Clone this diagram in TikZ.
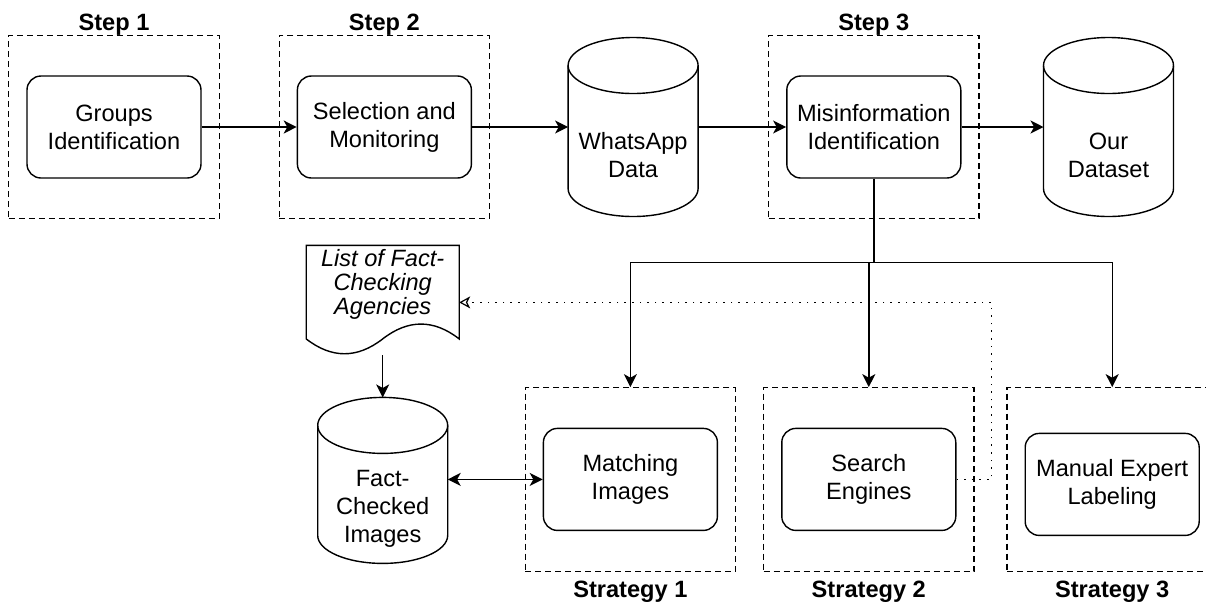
\documentclass[tikz,border=0pt]{standalone}
\usepackage{fontspec}
\setmainfont{Liberation Sans}
\usetikzlibrary{positioning, arrows.meta, calc, fit}
\tikzstyle{stepbox} =[draw, rounded corners=7pt, align=center, minimum width=87pt, minimum height=51pt, line width=0.7pt]
\tikzstyle{phasebox} =[draw, dash pattern=on 3pt off 2pt, line width=0.6pt, inner xsep=8.75pt, inner ysep=20pt]
\tikzstyle{phasetitle} =[font=\fontsize{11.8}{14}\selectfont\bfseries, inner sep=0pt]
\tikzstyle{database} =[align=center, minimum width=65pt, inner sep=0pt, outer sep=0pt]
\tikzstyle{link} =[-{Stealth[length=6.5pt, width=6.5pt, inset=1.8pt]}, line width=0.7pt]

\begin{document}
\begin{tikzpicture}[font=\fontsize{11.8}{14}\selectfont]
\useasboundingbox (-57pt,63.5pt) rectangle (546pt,-237.5pt);

\node (groups) [stepbox] {Groups\\Identification};
\node (selection) [stepbox, right=47.5pt of groups] {Selection and\\Monitoring};
\node (whatsapp) [database, minimum height=61.5pt, right=48pt of selection, yshift=-14pt] {WhatsApp\\Data};
\node (misinfo) [stepbox, right=44pt of whatsapp.east |- selection.east] {Misinformation\\Identification};
\node (dataset) [database, minimum height=61.5pt, right=41pt of misinfo, yshift=-14pt] {Our\\Dataset};

\node (step1box) [phasebox, fit=(groups)] {};
\node (step1title) [phasetitle, above=-0.3pt of step1box] {Step 1};
\node (step2box) [phasebox, fit=(selection)] {};
\node (step2title) [phasetitle, above=-0.3pt of step2box] {Step 2};
\node (step3box) [phasebox, fit=(misinfo)] {};
\node (step3title) [phasetitle, above=-0.3pt of step3box] {Step 3};

\node (search) [stepbox, below=124.5pt of misinfo, xshift=-2.5pt] {Search\\Engines};
\node (matching) [stepbox, left=31.5pt of search] {Matching\\Images};
\node (manual) [stepbox, right=34pt of search, yshift=-2.5pt] {Manual Expert\\Labeling};

\node (strat1box) [phasebox, fit=(matching)] {};
\node (strat1title) [phasetitle, below=4.5pt of strat1box] {Strategy 1};
\node (strat2box) [phasebox, fit=(search)] {};
\node (strat2title) [phasetitle, below=4.5pt of strat2box] {Strategy 2};
\node (strat3box) [phasebox, fit=(manual), yshift=2.5pt] {};
\node (strat3title) [phasetitle, below=4.5pt of strat3box] {Strategy 3};

\node (factchecked) [database, minimum height=55pt, left=47.5pt of matching, yshift=-14.5pt] {Fact-\\Checked\\Images};
\node (agencies) [align=center, minimum width=76.5pt, minimum height=38.5pt, inner sep=0pt, outer sep=0pt, font=\fontsize{11.8}{12}\selectfont\itshape, above=65.5pt of factchecked] {List of Fact-\\Checking\\Agencies};

% cylinders
\foreach \db in {whatsapp, dataset, factchecked} {
	\draw[line width=0.7pt] ($(\db.north west)+(0,14pt)$) -- ($(\db.south west)+(0,14pt)$)
		arc[start angle=180, end angle=360, x radius=32.5pt, y radius=14pt] -- ($(\db.north east)+(0,14pt)$);
	\draw[line width=0.7pt] ($(\db.north)+(0,14pt)$) ellipse [x radius=32.5pt, y radius=14pt];
}

% document
\draw[line width=0.7pt] (agencies.north west) -- (agencies.north east) -- ($(agencies.south east)+(0,-8.25pt)$)
	.. controls ($(agencies.south west)+(63.75pt,1.65pt)$) and ($(agencies.south west)+(51pt,1.65pt)$) .. ($(agencies.south)+(0,-8.25pt)$)
	.. controls ($(agencies.south west)+(25.5pt,-18.15pt)$) and ($(agencies.south west)+(12.75pt,-18.15pt)$) .. ($(agencies.south west)+(0,-8.25pt)$) -- cycle;

\draw[link] (groups) -- (selection);
\draw[link] (selection.east) -- (selection.east -| whatsapp.west);
\draw[link] (misinfo.west -| whatsapp.east) -- (misinfo.west);
\draw[link] (misinfo.east) -- (misinfo.east -| dataset.west);

\coordinate (split) at ($(misinfo.south)+(0,-42pt)$);
\draw[line width=0.7pt] (misinfo.south) -- (split);
\draw[link] (split) -| (strat1box.north);
\draw[link] (split) -| (strat2box.north);
\draw[link] (split) -| (strat3box.north);

\draw[{Stealth[length=6.5pt, width=6.5pt, inset=1.8pt]}-{Stealth[length=6.5pt, width=6.5pt, inset=1.8pt]}, line width=0.7pt]
	(matching.west -| factchecked.east) -- (matching.west);

\coordinate (agenciesbottom) at ($(agencies.south)+(0,-16.5pt)$);
\coordinate (factcheckedtop) at ($(factchecked.north)+(0,28pt)$);
\draw[link] (agenciesbottom) -- (factcheckedtop);

%feedback
\draw[-{Stealth[open, length=5.5pt, width=6pt, inset=1.5pt]}, line width=0.6pt, dash pattern=on 0.8pt off 3pt]
	(search.east) -- ++(17.5pt,0) |- ($(agencies.east)+(0,-9.25pt)$);

\end{tikzpicture}
\end{document}
